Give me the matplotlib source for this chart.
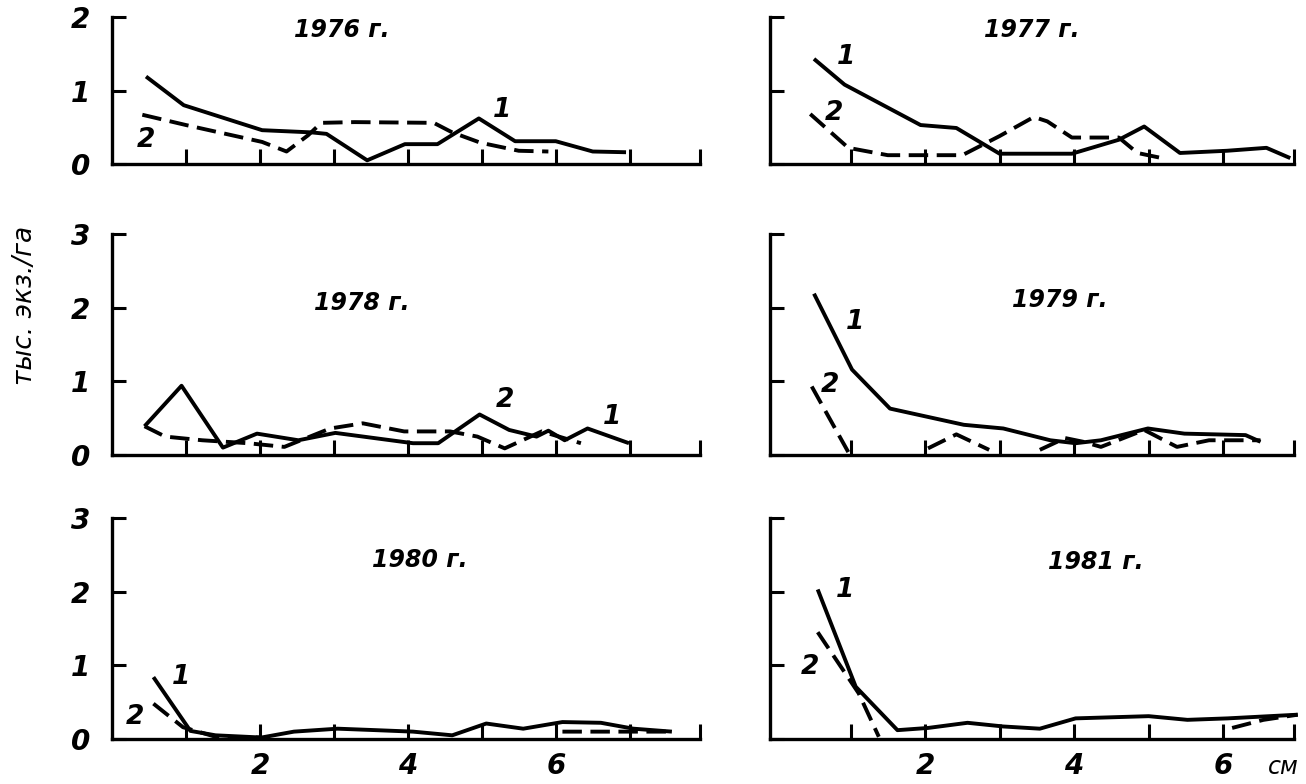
import matplotlib.pyplot as plt
import numpy as np

nan = np.nan

# 1976
x76_1 = [0.46, 0.97, 2.03, 2.7, 2.9, 3.45, 3.96, 4.4, 4.96, 5.45, 6.0, 6.5, 6.95]
y76_1 = [1.19, 0.80, 0.46, 0.43, 0.41, 0.05, 0.27, 0.27, 0.62, 0.31, 0.31, 0.17, 0.16]
x76_2 = [0.41, 1.0, 2.03, 2.36, 2.65, 2.83, 3.28, 4.35, 4.6, 4.98, 5.5, 5.9]
y76_2 = [0.67, 0.53, 0.30, 0.17, 0.39, 0.56, 0.57, 0.56, 0.43, 0.29, 0.18, 0.17]

# 1977
x77_1 = [0.51, 0.92, 1.94, 2.42, 3.0, 3.97, 4.6, 4.94, 5.42, 6.05, 6.58, 6.9]
y77_1 = [1.43, 1.08, 0.53, 0.49, 0.14, 0.14, 0.33, 0.51, 0.15, 0.18, 0.22, 0.08]
x77_2 = [0.46, 0.97, 1.5, 2.5, 3.0, 3.46, 3.64, 3.97, 4.6, 4.85, 5.18]
y77_2 = [0.68, 0.22, 0.12, 0.12, 0.38, 0.64, 0.58, 0.36, 0.36, 0.15, 0.08]

# 1978
x78_1 = [0.44, 0.94, 1.5, 1.96, 2.52, 3.02, 4.07, 4.41, 4.97, 5.37, 5.74, 5.9, 6.12, 6.43, 6.99]
y78_1 = [0.39, 0.94, 0.10, 0.29, 0.20, 0.30, 0.16, 0.16, 0.55, 0.34, 0.25, 0.33, 0.20, 0.36, 0.16]
x78_2 = [0.44, 0.72, 1.22, 1.84, 2.33, 2.95, 3.39, 3.95, 4.57, 4.94, 5.31, 5.81, 6.34]
y78_2 = [0.39, 0.25, 0.20, 0.16, 0.11, 0.36, 0.43, 0.32, 0.32, 0.25, 0.09, 0.32, 0.16]

# 1979
x79_1 = [0.51, 1.02, 1.53, 2.52, 3.05, 3.68, 4.02, 4.36, 4.99, 5.48, 6.3, 6.5]
y79_1 = [2.19, 1.16, 0.63, 0.41, 0.36, 0.20, 0.16, 0.20, 0.36, 0.29, 0.27, 0.18]
x79_2 = [0.48, 0.97, nan, 2.04, 2.42, 2.86, nan, 3.54, 3.88, 4.12, 4.36, 4.94, 5.38, 5.81, 6.5]
y79_2 = [0.93, 0.04, nan, 0.09, 0.28, 0.07, nan, 0.07, 0.23, 0.18, 0.11, 0.34, 0.11, 0.20, 0.20]

# 1980
x80_1 = [0.56, 1.06, 1.4, 2.02, 2.46, 3.05, 3.57, 4.07, 4.6, 5.06, 5.56, 6.09, 6.61, 7.05, 7.57]
y80_1 = [0.84, 0.11, 0.05, 0.02, 0.10, 0.14, 0.12, 0.10, 0.05, 0.21, 0.14, 0.23, 0.22, 0.14, 0.10]
x80_2 = [0.56, 0.96, 1.4, 2.0, nan, 6.09, 7.57]
y80_2 = [0.48, 0.16, 0.03, 0.02, nan, 0.10, 0.10]

# 1981
x81_1 = [0.56, 1.07, 1.63, 2.04, 2.57, 3.05, 3.54, 4.02, 5.0, 5.52, 6.06, 7.0]
y81_1 = [2.03, 0.71, 0.12, 0.15, 0.22, 0.17, 0.14, 0.28, 0.31, 0.26, 0.28, 0.33]
x81_2 = [0.56, 1.11, 1.38, nan, 6.12, 6.54, 7.0]
y81_2 = [1.45, 0.62, 0.03, nan, 0.15, 0.26, 0.33]

years = ['1976 г.', '1977 г.', '1978 г.', '1979 г.', '1980 г.', '1981 г.']

W, H = 1306, 784
fig = plt.figure(figsize=(W / 100, H / 100), dpi=100)

fnt = dict(family=['Liberation Sans Narrow', 'DejaVu Sans'], style='italic', weight='bold')


def px(x, y):
    return x / W, 1 - y / H


def panel(rect, xlim, ymax, xticks, left_col, bottom_row, series):
    ax = fig.add_axes(rect)
    for x, y, ls in series:
        ax.plot(x, y, color='black', lw=2.8, linestyle=ls,
                solid_capstyle='butt', clip_on=False)
    ax.set_xlim(*xlim)
    ax.set_ylim(0, ymax)
    for s in ['top', 'right']:
        ax.spines[s].set_visible(False)
    for s in ['left', 'bottom']:
        ax.spines[s].set_linewidth(2.4)
    ax.set_xticks(xticks)
    ax.set_yticks(range(0, ymax + 1))
    ax.tick_params(axis='both', direction='in', width=2.2, colors='black')
    ax.tick_params(axis='x', length=11)
    ax.tick_params(axis='y', length=10)
    if left_col:
        ax.set_yticklabels([str(v) for v in range(0, ymax + 1)], fontsize=20, **fnt)
        ax.tick_params(axis='y', pad=16)
    else:
        ax.set_yticklabels([])
    if bottom_row:
        ax.set_xticklabels(['2' if t == 2 else '4' if t == 4 else '6' if t == 6 else ''
                            for t in xticks], fontsize=20, **fnt)
        ax.tick_params(axis='x', pad=9)
    else:
        ax.set_xticklabels([])
    return ax


L = (112 / W, (700 - 112) / W)
R = (770 / W, (1294 - 770) / W)
rows = [(1 - 164 / H, 147 / H), (1 - 455 / H, 221 / H), (1 - 739 / H, 221 / H)]
xl_left = (0, 7.95)
xl_right = (-0.08, 6.95)
xt_left = [1, 2, 3, 4, 5, 6, 7, 7.95]
xt_right = [1, 2, 3, 4, 5, 6, 6.95]
dash = (0, (5, 2.2))

panel([L[0], rows[0][0], L[1], rows[0][1]], xl_left, 2, xt_left, True, False,
      [(x76_1, y76_1, '-'), (x76_2, y76_2, dash)])
panel([R[0], rows[0][0], R[1], rows[0][1]], xl_right, 2, xt_right, False, False,
      [(x77_1, y77_1, '-'), (x77_2, y77_2, dash)])
panel([L[0], rows[1][0], L[1], rows[1][1]], xl_left, 3, xt_left, True, False,
      [(x78_1, y78_1, '-'), (x78_2, y78_2, dash)])
panel([R[0], rows[1][0], R[1], rows[1][1]], xl_right, 3, xt_right, False, False,
      [(x79_1, y79_1, '-'), (x79_2, y79_2, dash)])
panel([L[0], rows[2][0], L[1], rows[2][1]], xl_left, 3, xt_left, True, True,
      [(x80_1, y80_1, '-'), (x80_2, y80_2, dash)])
panel([R[0], rows[2][0], R[1], rows[2][1]], xl_right, 3, xt_right, False, True,
      [(x81_1, y81_1, '-'), (x81_2, y81_2, dash)])

# titles
for (tx, ty), t in zip([(342, 30), (1032, 30), (362, 303), (1060, 300), (420, 560), (1096, 562)], years):
    fig.text(*px(tx, ty), t, ha='center', va='center', fontsize=17, **fnt)

# curve numbers
labels = [(502, 110, '1'), (146, 140, '2'),
          (846, 57, '1'), (834, 113, '2'),
          (612, 417, '1'), (505, 400, '2'),
          (855, 322, '1'), (830, 385, '2'),
          (181, 677, '1'), (135, 717, '2'),
          (845, 590, '1'), (810, 667, '2')]
for lx, ly, s in labels:
    fig.text(*px(lx, ly), s, ha='center', va='center', fontsize=19, **fnt)

fig.text(*px(25, 305), 'тыс. экз./га', rotation=90, ha='center', va='center',
         fontsize=19, family=['Liberation Sans Narrow', 'DejaVu Sans'], style='italic')
fig.text(*px(1283, 767), 'см', ha='center', va='center', fontsize=17,
         family=['Liberation Sans Narrow', 'DejaVu Sans'], style='italic')

fig.savefig('out.png', dpi=100, facecolor='white')
